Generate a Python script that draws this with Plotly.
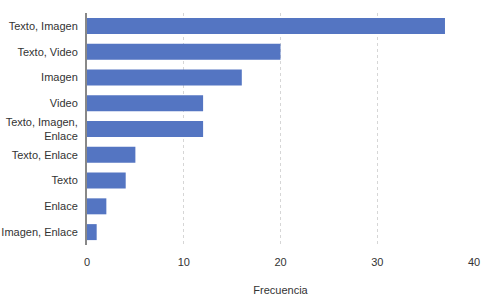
import plotly.graph_objects as go

categories = ["Texto, Imagen", "Texto, Video", "Imagen", "Video", "Texto, Imagen,<br>Enlace",
              "Texto, Enlace", "Texto", "Enlace", "Imagen, Enlace"]
values = [37, 20, 16, 12, 12, 5, 4, 2, 1]
x_ticks = [0, 10, 20, 30, 40]

fig = go.Figure(go.Bar(
    y=categories, x=values, orientation="h",
    marker=dict(color="#5475c2", line=dict(width=0)),
))
fig.update_layout(
    width=491, height=306,
    margin=dict(l=87, r=17, t=13, b=61, autoexpand=False),
    paper_bgcolor="white", plot_bgcolor="white",
    font=dict(family="Liberation Sans, Arial, sans-serif", size=11, color="#333"),
    bargap=0.38,
    showlegend=False,
)
fig.update_xaxes(
    range=[0, 40], tickvals=x_ticks, showgrid=True, gridcolor="#d6d6d6", griddash="dot",
    zeroline=False, automargin=False,
    title=dict(text="Frecuencia", font=dict(size=11, color="#333"), standoff=19),
    ticks="", ticklen=0, ticklabelstandoff=9,
)
fig.update_yaxes(
    categoryorder="array", categoryarray=categories[::-1], showgrid=False, automargin=False,
    showline=True, linecolor="#888", linewidth=2, ticks="", ticklabelstandoff=5,
)
fig.write_html("out.html", config={"displayModeBar": False},
               post_script="document.body.style.margin='0';document.body.style.padding='0';")
